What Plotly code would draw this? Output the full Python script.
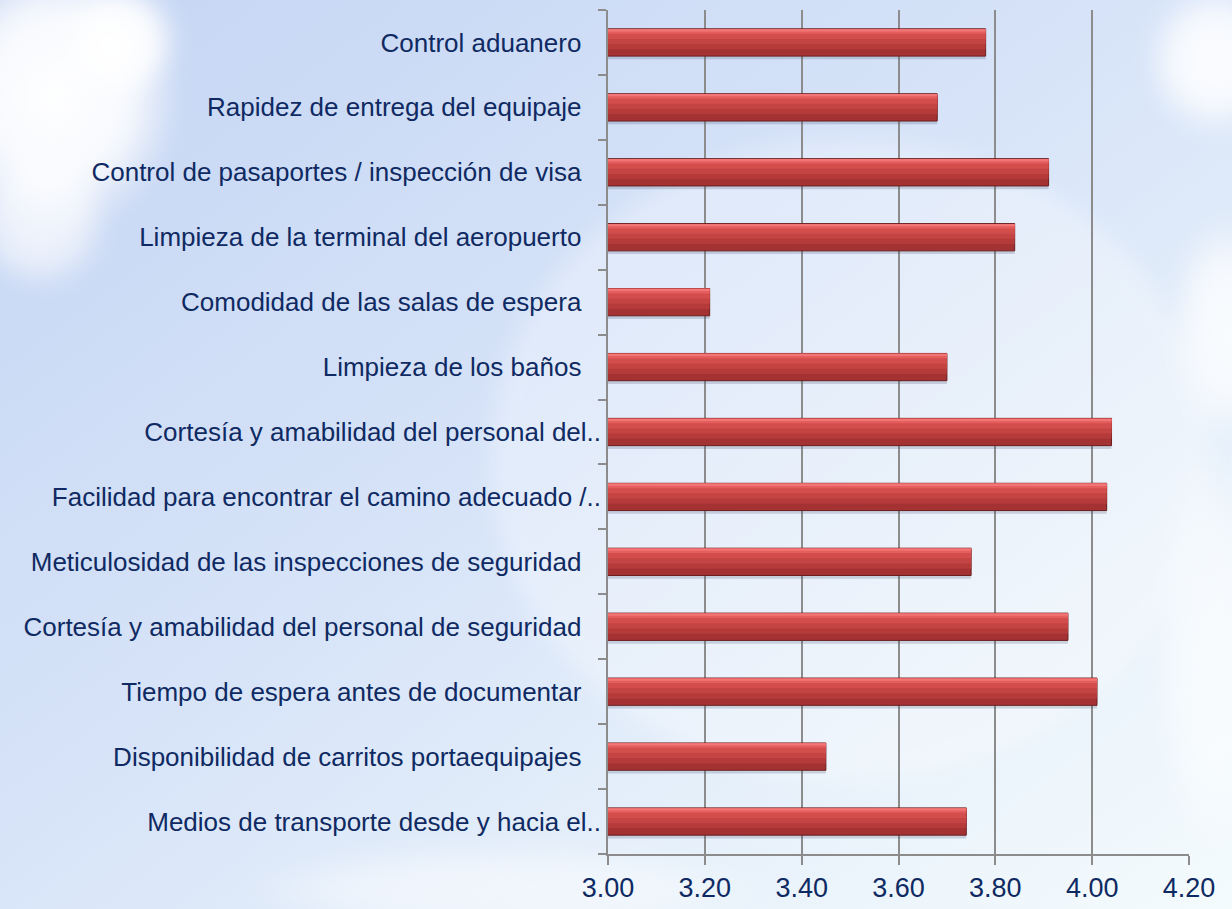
import base64
import plotly.graph_objects as go

# ---------------- data ----------------
categories = [
    "Control aduanero",
    "Rapidez de entrega del equipaje",
    "Control de pasaportes / inspección de visa",
    "Limpieza de la terminal del aeropuerto",
    "Comodidad de las salas de espera",
    "Limpieza de los baños",
    "Cortesía y amabilidad del personal del..",
    "Facilidad para encontrar el camino adecuado /..",
    "Meticulosidad de las inspecciones de seguridad",
    "Cortesía y amabilidad del personal de seguridad",
    "Tiempo de espera antes de documentar",
    "Disponibilidad de carritos portaequipajes",
    "Medios de transporte desde y hacia el..",
]
values = [3.78, 3.68, 3.91, 3.84, 3.21, 3.70, 4.04, 4.03, 3.75, 3.95, 4.01, 3.45, 3.74]
x_ticks = [3.00, 3.20, 3.40, 3.60, 3.80, 4.00, 4.20]

# ---------------- style ----------------
W, H = 1232, 909
ML, MR, MT, MB = 608, 43, 10, 55
FONT = "Liberation Sans Narrow, Arial Narrow, Liberation Sans, Arial, sans-serif"
TEXT = "#0f2a62"
GRID = "#8c8c8c"

# labels that were not truncated carry trailing spacing in the original
tick_text = [c if c.endswith("..") else c + "\u00a0\u00a0\u2009" for c in categories]

bg_svg = f'''<svg xmlns="http://www.w3.org/2000/svg" width="{W}" height="{H}" viewBox="0 0 {W} {H}">
<defs>
<linearGradient id="sky" x1="0" y1="0" x2="1" y2="1">
<stop offset="0" stop-color="#c5d5f3"/>
<stop offset="0.45" stop-color="#d6e3f8"/>
<stop offset="0.8" stop-color="#eaf3fb"/>
<stop offset="1" stop-color="#f4fbfd"/>
</linearGradient>
<radialGradient id="cloud">
<stop offset="0" stop-color="#ffffff" stop-opacity="1"/>
<stop offset="0.6" stop-color="#ffffff" stop-opacity="0.85"/>
<stop offset="1" stop-color="#ffffff" stop-opacity="0"/>
</radialGradient>
<filter id="blur" x="-50%" y="-50%" width="200%" height="200%"><feGaussianBlur stdDeviation="10"/></filter>
</defs>
<rect width="{W}" height="{H}" fill="url(#sky)"/>
<ellipse cx="850" cy="460" rx="360" ry="320" fill="#ffffff" opacity="0.3" filter="url(#blur)"/>
<g filter="url(#blur)">
<ellipse cx="55" cy="95" rx="125" ry="140" fill="url(#cloud)"/>
<ellipse cx="120" cy="40" rx="60" ry="60" fill="url(#cloud)"/>
<ellipse cx="40" cy="220" rx="70" ry="70" fill="url(#cloud)" opacity="0.7"/>
<ellipse cx="1215" cy="60" rx="70" ry="75" fill="url(#cloud)" opacity="0.9"/>
<ellipse cx="1225" cy="330" rx="55" ry="110" fill="url(#cloud)" opacity="0.8"/>
<ellipse cx="1215" cy="650" rx="60" ry="200" fill="url(#cloud)" opacity="0.6"/>
<ellipse cx="500" cy="890" rx="260" ry="45" fill="url(#cloud)" opacity="0.5"/>
</g>
</svg>'''
bg_uri = "data:image/svg+xml;base64," + base64.b64encode(bg_svg.encode("utf-8")).decode("ascii")

pw = W - ML - MR
ph = H - MT - MB

fig = go.Figure()

# soft shadow under each bar
fig.add_trace(go.Bar(
    x=values, y=categories, orientation="h", width=0.44, offset=-0.18,
    marker=dict(color="rgba(70,80,115,0.22)", line=dict(width=0)),
    hoverinfo="skip", showlegend=False,
))
# bar body, layered from dark bottom to light top to imitate the gradient
layers = [
    (0.42, -0.21, "#a53232"),
    (0.31, -0.205, "#b53a3a"),
    (0.23, -0.205, "#c44343"),
    (0.15, -0.205, "#d34d4d"),
    (0.07, -0.205, "#e55e5e"),
    (0.035, -0.205, "#f27676"),
]
for i, (wd, off, col) in enumerate(layers):
    fig.add_trace(go.Bar(
        x=values, y=categories, orientation="h", width=wd, offset=off,
        marker=dict(color=col,
                    line=dict(color="#6a1e1e", width=1) if i == 0 else dict(width=0)),
        hoverinfo=None if i == 0 else "skip", showlegend=False,
    ))

fig.update_layout(
    width=W, height=H,
    margin=dict(l=ML, r=MR, t=MT, b=MB, pad=0, autoexpand=False),
    barmode="overlay",
    paper_bgcolor="#d6e3f7",
    plot_bgcolor="rgba(0,0,0,0)",
    font=dict(family=FONT, color=TEXT),
    images=[dict(
        source=bg_uri, xref="paper", yref="paper",
        x=-ML / pw, y=1 + MT / ph, sizex=W / pw, sizey=H / ph,
        xanchor="left", yanchor="top", sizing="stretch", layer="below",
    )],
)
fig.update_xaxes(
    range=[3.0, 4.2], tickvals=x_ticks, ticktext=[f"{v:.2f}" for v in x_ticks],
    showgrid=True, gridcolor=GRID, gridwidth=1.5,
    showline=True, linecolor=GRID, linewidth=1.5,
    ticks="outside", ticklen=9, tickwidth=1.5, tickcolor=GRID,
    tickfont=dict(size=27, color=TEXT, family=FONT),
    ticklabelstandoff=0,
    zeroline=False, fixedrange=True, automargin=False,
)
fig.update_yaxes(
    type="category", categoryorder="array", categoryarray=categories,
    tickvals=categories, ticktext=tick_text,
    autorange="reversed",
    tickson="boundaries", ticks="outside", ticklen=8, tickwidth=1.5, tickcolor=GRID,
    showline=True, linecolor=GRID, linewidth=1.5,
    showgrid=False, zeroline=False,
    tickfont=dict(size=26, color=TEXT, family=FONT),
    fixedrange=True, automargin=False,
)

fig.write_html(
    "out.html",
    config={"displayModeBar": False},
    post_script="document.body.style.margin='0';document.body.style.overflow='hidden';",
)
